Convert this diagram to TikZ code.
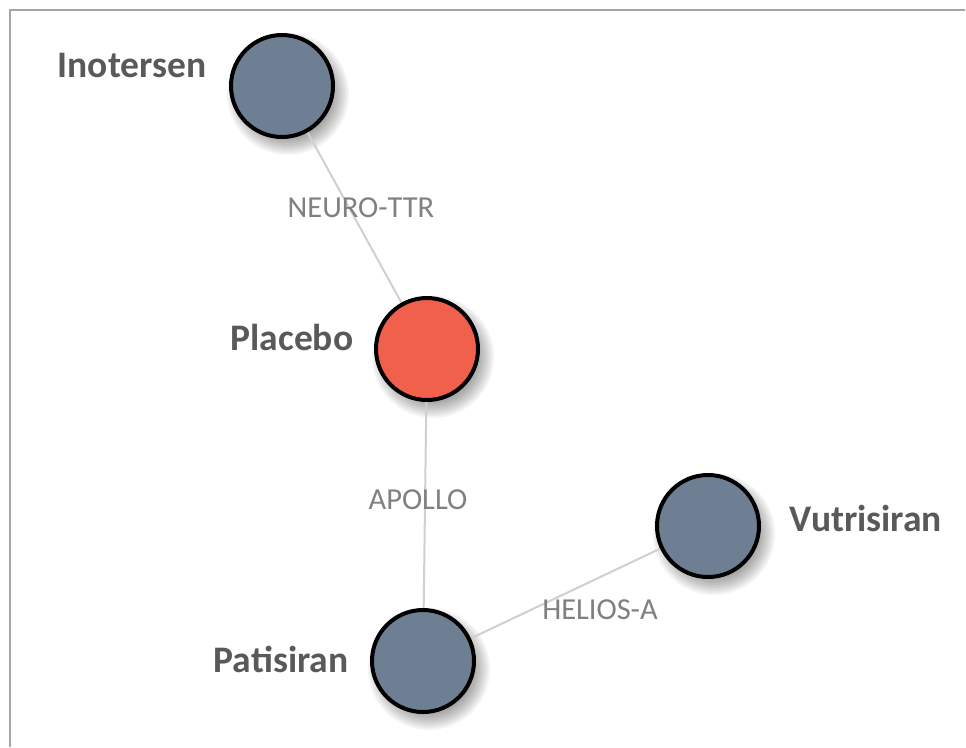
\documentclass[tikz,border=0pt]{standalone}
\usepackage{fontspec}
\setmainfont{Carlito}
\usetikzlibrary{calc}
\definecolor{nodegray}{HTML}{6E7F93}
\definecolor{placebored}{HTML}{F0604A}
\definecolor{edgegray}{HTML}{D0D0D0}
\definecolor{labgray}{HTML}{808080}
\definecolor{namegray}{HTML}{595959}
\definecolor{framegray}{HTML}{A6A6A6}
\tikzset{
  drug/.style={circle, draw=black, line width=4pt, minimum size=102pt, inner sep=0pt},
  drugname/.style={font=\fontsize{37.5}{42}\selectfont\bfseries, text=namegray, inner sep=0pt},
  trial/.style={font=\fontsize{30.5}{35}\selectfont, text=labgray, inner sep=0pt},
  link/.style={draw=edgegray, line width=2pt},
}
\newcommand{\blurshadow}[1]{%
  \foreach \r in {61,59,...,45} {
    \fill[black, opacity=0.045] ($(#1)+(6,8)$) circle (\r pt);
  }
}
\begin{document}
\begin{tikzpicture}[x=1pt, y=-1pt]
\useasboundingbox (0,0) rectangle (966,747);
\fill[white] (0,0) rectangle (966,747);
% frame
\draw[framegray, line width=2pt] (10,747) -- (10,10) -- (965,10);
% coordinates of node centres
\coordinate (ci) at (282,86);
\coordinate (cp) at (427,349);
\coordinate (cv) at (708,526);
\coordinate (ct) at (423,661);
% shadows
\blurshadow{ci}
\blurshadow{cp}
\blurshadow{cv}
\blurshadow{ct}
% edges
\draw[link] (ci) -- (cp);
\draw[link] (cp) -- (ct);
\draw[link] (ct) -- (cv);
% nodes
\node[drug, fill=nodegray] (ino) at (ci) {};
\node[drug, fill=placebored] (pla) at (cp) {};
\node[drug, fill=nodegray] (vut) at (cv) {};
\node[drug, fill=nodegray] (pat) at (ct) {};
% names
\node[drugname] (inoname) at (132,65) {Inotersen};
\node[drugname] (planame) at (292,337) {Placebo};
\node[drugname] (vutname) at (866,518) {Vutrisiran};
\node[drugname] (patname) at (281,659) {Patisiran};
% trial labels
\node[trial] (neuro) at (361,208) {NEURO-TTR};
\node[trial] (apollo) at (418,500) {APOLLO};
\node[trial] (helios) at (600,610) {HELIOS-A};
\end{tikzpicture}
\end{document}
